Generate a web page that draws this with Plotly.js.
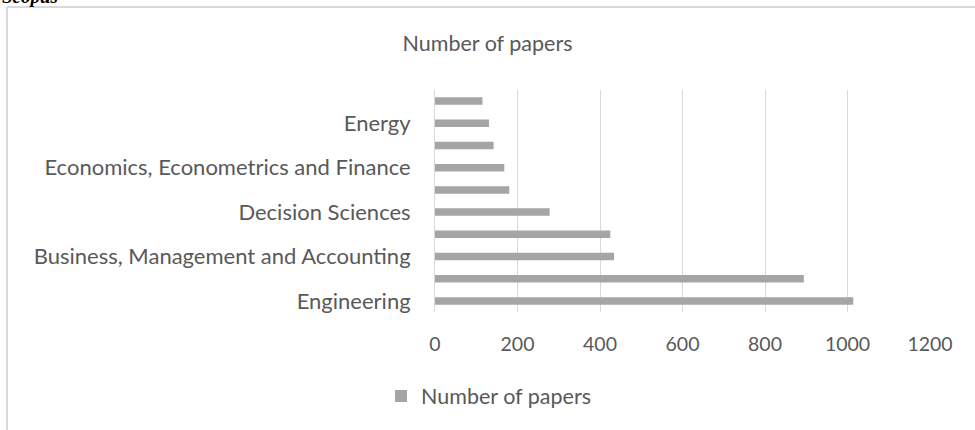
<!DOCTYPE html>
<html>
<head>
<meta charset="utf-8">
<script src="https://cdn.plot.ly/plotly-3.0.1.min.js"></script>
<style>
html,body{margin:0;padding:0;background:#fff;}
#chart{width:975px;height:430px;}
</style>
</head>
<body>
<div id="chart"></div>
<script>
// Categories from bottom to top; empty strings are categories whose labels are skipped in the original chart
const categories = [
  "Engineering",
  "",
  "Business, Management and Accounting",
  "",
  "Decision Sciences",
  "",
  "Economics, Econometrics and Finance",
  "",
  "Energy",
  ""
];
const papers = [1014, 894, 434, 425, 278, 180, 168, 142, 131, 115];
const seriesName = "Number of papers";
const xTicks = [0, 200, 400, 600, 800, 1000, 1200];

const positions = categories.map((_, i) => i);
const labelled = positions.filter(i => categories[i] !== "");

const FONT = "Lato, 'Open Sans', sans-serif";
const TXT = "#595959";
const FS = 21.5;

// plot area in pixels: left 435, right 930, top 90, bottom 312
const PL = 435, PW = 495, PT = 90, PH = 222;
const px = x => (x - PL) / PW;
const py = y => (PT + PH - y) / PH;

const trace = {
  type: "bar",
  orientation: "h",
  name: seriesName,
  x: papers,
  y: positions,
  marker: {color: "#a5a5a5"},
  width: 0.34,
  hoverinfo: "x"
};

const layout = {
  width: 975,
  height: 430,
  margin: {l: 435, r: 45, t: 90, b: 118, pad: 0},
  paper_bgcolor: "#ffffff",
  plot_bgcolor: "#ffffff",
  font: {family: FONT, color: TXT, size: FS},
  title: {
    text: seriesName,
    x: 0.5, xref: "container", xanchor: "center",
    y: 1 - 43/430, yref: "container", yanchor: "middle",
    font: {family: FONT, color: TXT, size: FS}
  },
  xaxis: {
    range: [0, 1200],
    tickvals: xTicks,
    ticktext: xTicks.map(String),
    showgrid: true,
    gridcolor: "#d9d9d9",
    gridwidth: 1,
    zeroline: false,
    showline: false,
    ticks: "",
    ticklabelstandoff: 18,
    tickfont: {family: FONT, color: TXT, size: 19.5},
    fixedrange: true
  },
  yaxis: {
    range: [-0.5, categories.length - 0.5],
    tickvals: labelled,
    ticktext: labelled.map(i => categories[i]),
    showgrid: false,
    zeroline: false,
    showline: true,
    linecolor: "#d9d9d9",
    linewidth: 1,
    ticks: "",
    ticklabelstandoff: 19,
    tickfont: {family: FONT, color: TXT, size: 22},
    fixedrange: true
  },
  showlegend: true,
  legend: {
    orientation: "h",
    x: px(381), xanchor: "left",
    y: py(396), yanchor: "middle",
    font: {family: FONT, color: TXT, size: FS},
    bgcolor: "rgba(0,0,0,0)"
  },
  shapes: [
    {type: "line", xref: "paper", yref: "paper",
     x0: px(7), x1: px(7), y0: py(7), y1: py(440),
     line: {color: "#d9d9d9", width: 2}},
    {type: "line", xref: "paper", yref: "paper",
     x0: px(7), x1: px(985), y0: py(7), y1: py(7),
     line: {color: "#d9d9d9", width: 2}}
  ],
  annotations: [
    {text: "<b><i>Scopus</i></b>", xref: "paper", yref: "paper",
     x: px(0), xanchor: "left",
     y: py(-4), yanchor: "middle",
     showarrow: false,
     font: {family: "'Liberation Serif', 'Times New Roman', serif", size: 19, color: "#000000"}}
  ]
};

Plotly.newPlot("chart", [trace], layout, {displayModeBar: false, staticPlot: true});
</script>
</body>
</html>
